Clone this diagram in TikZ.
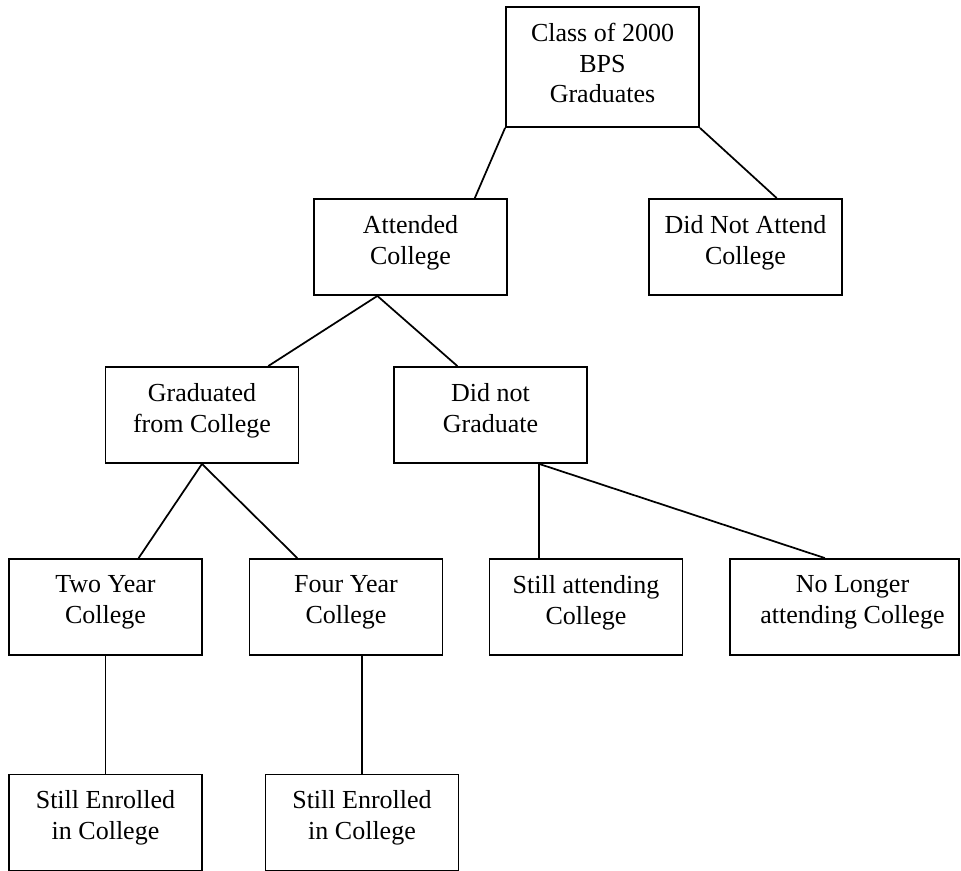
\documentclass[tikz,border=0pt]{standalone}
\usepackage{fontspec}
\setmainfont{Liberation Serif}
\usetikzlibrary{calc}

\begin{document}
\begin{tikzpicture}[x=0.75pt,y=-0.75pt,
	box/.style={draw,line width=1.4pt,inner sep=0pt,minimum width=193*0.75pt,minimum height=96*0.75pt},
	lbl/.style={anchor=north,align=center,inner sep=0pt,font=\fontsize{19.5}{23}\selectfont},
	link/.style={line width=1.3pt}]
			%%%%% START %%%%%
			\def\gap{17}
			\useasboundingbox (0,0) rectangle (961,871);
			
			% boxes
			\node[box,minimum height=120*0.75pt] (top) at (602.5,67) {};
			\node[box] (att) at (410.5,247) {};
			\node[box] (dna) at (745.5,247) {};
			\node[box] (grad) at (202,415) {};
			\node[box] (dng) at (490.5,415) {};
			\node[box] (two) at (105.5,607) {};
			\node[box] (four) at (346,607) {};
			\node[box] (still) at (586,607) {};
			\node[box,minimum width=229*0.75pt] (nolong) at (844.5,607) {};
			\node[box] (enr1) at (105.5,822.5) {};
			\node[box] (enr2) at (362,822.5) {};
			
			% texts
			\node[lbl] (topT) at ($(top.north)+(0,\gap)$) {Class of 2000\\BPS\\Graduates};
			\node[lbl] (attT) at ($(att.north)+(0,\gap)$) {Attended\\College};
			\node[lbl] (dnaT) at ($(dna.north)+(0,\gap)$) {Did Not Attend\\College};
			\node[lbl] (gradT) at ($(grad.north)+(0,\gap)$) {Graduated\\from College};
			\node[lbl] (dngT) at ($(dng.north)+(0,\gap)$) {Did not\\Graduate};
			\node[lbl] (twoT) at ($(two.north)+(0,\gap)$) {Two Year\\College};
			\node[lbl] (fourT) at ($(four.north)+(0,\gap)$) {Four Year\\College};
			\node[lbl] (stillT) at ($(still.north)+(0,\gap)$) {Still attending\\College};
			\node[lbl] (nolongT) at ($(nolong.north)+(8,\gap)$) {No Longer\\attending College};
			\node[lbl] (enr1T) at ($(enr1.north)+(0,\gap)$) {Still Enrolled\\in College};
			\node[lbl] (enr2T) at ($(enr2.north)+(0,\gap)$) {Still Enrolled\\in College};
			
			% links
			\draw[link] (top.south west) -- ($(att.north west)!.83!(att.north east)$);
			\draw[link] (top.south east) -- ($(dna.north west)!.66!(dna.north east)$);
			\coordinate (attB) at ($(att.south west)!.33!(att.south east)$);
			\draw[link] (attB) -- ($(grad.north west)!.84!(grad.north east)$);
			\draw[link] (attB) -- ($(dng.north west)!.33!(dng.north east)$);
			\draw[link] (grad.south) -- ($(two.north west)!.67!(two.north east)$);
			\draw[link] (grad.south) -- ($(four.north west)!.25!(four.north east)$);
			\coordinate (dngB) at ($(dng.south west)!.75!(dng.south east)$);
			\draw[link] (dngB) -- (dngB |- still.north);
			\draw[link] (dngB) -- ($(nolong.north west)!.415!(nolong.north east)$);
			\draw[link] (two.south) -- (enr1.north);
			\draw[link] (enr2.north |- four.south) -- (enr2.north);
			%%%%% END %%%%%
\end{tikzpicture}
\end{document}
